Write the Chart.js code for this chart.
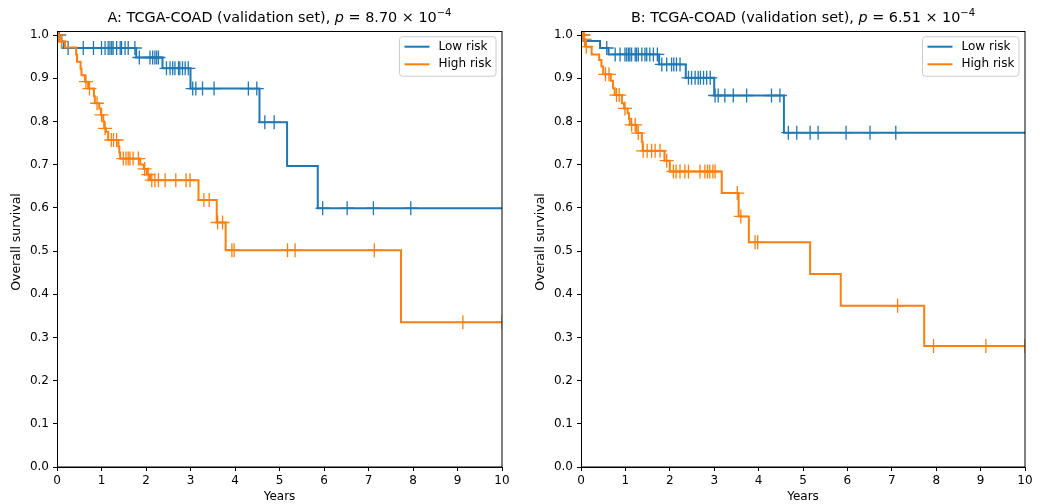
<!DOCTYPE html>
<html>
<head>
<meta charset="utf-8">
<script src="https://cdn.jsdelivr.net/npm/chart.js@4"></script>
<style>
html,body{margin:0;padding:0;background:#fff;}
#wrap{position:relative;width:1047px;height:504px;overflow:hidden;}
canvas{position:absolute;top:0;}
</style>
</head>
<body>
<div id="wrap">
<canvas id="cA" width="524" height="504" style="left:0px"></canvas>
<canvas id="cB" width="523" height="504" style="left:524px"></canvas>
</div>
<script>
// ---------- DATA ----------
const xTicks = [0,1,2,3,4,5,6,7,8,9,10];
const yTicks = [0,0.1,0.2,0.3,0.4,0.5,0.6,0.7,0.8,0.9,1.0];
const seriesNames = ["Low risk", "High risk"];

// Panel A
const aLowT = [0, 0.1, 0.15, 1.78, 2.37, 3.0, 4.55, 5.17, 5.86, 10];
const aLowS = [1.0, 0.985, 0.97, 0.948, 0.923, 0.876, 0.798, 0.697, 0.599, 0.599];
const aLowC = [0.05, 0.25, 0.59, 0.82, 1.0, 1.08, 1.15, 1.19, 1.23, 1.26, 1.34, 1.42, 1.45, 1.53, 1.6, 1.75,
  1.85, 2.09, 2.15, 2.2, 2.24, 2.28, 2.46, 2.54, 2.6, 2.65, 2.73, 2.76, 2.82, 2.88, 2.95,
  3.05, 3.12, 3.27, 3.53, 4.3, 4.49, 4.67, 4.88, 5.97, 6.52, 7.11, 7.95];
const aHighT = [0, 0.04, 0.18, 0.43, 0.45, 0.53, 0.55, 0.63, 0.70, 0.83, 0.85, 0.95, 0.99, 1.04, 1.06, 1.10,
  1.15, 1.38, 1.40, 1.42, 1.87, 1.95, 2.02, 2.09, 3.18, 3.59, 3.79, 7.73, 10];
const aHighS = [1.0, 0.985, 0.971, 0.955, 0.938, 0.922, 0.907, 0.892, 0.876, 0.858, 0.842, 0.83, 0.815, 0.80, 0.784, 0.776,
  0.757, 0.742, 0.728, 0.714, 0.70, 0.69, 0.677, 0.664, 0.618, 0.566, 0.502, 0.335, 0.335];
const aHighC = [0.03, 0.1, 0.65, 0.73, 0.9, 1.0, 1.08, 1.22, 1.27, 1.34, 1.49, 1.55, 1.6, 1.64, 1.71, 1.83,
  1.97, 2.05, 2.13, 2.2, 2.28, 2.43, 2.67, 2.9, 2.99, 3.3, 3.42, 3.61, 3.72, 3.93, 3.98, 5.18, 5.35, 7.13, 9.12, 10.0];

// Panel B
const bLowT = [0, 0.06, 0.43, 0.62, 1.76, 2.36, 3.0, 4.57, 10];
const bLowS = [1.0, 0.986, 0.97, 0.955, 0.932, 0.901, 0.86, 0.774, 0.774];
const bLowC = [0.05, 0.58, 0.77, 0.88, 0.99, 1.03, 1.07, 1.1, 1.14, 1.22, 1.25, 1.29, 1.37, 1.44, 1.48, 1.55, 1.63, 1.72,
  1.82, 1.93, 2.04, 2.09, 2.15, 2.23, 2.42, 2.49, 2.57, 2.64, 2.69, 2.76, 2.83, 2.91,
  3.02, 3.09, 3.24, 3.43, 3.73, 4.29, 4.48, 4.67, 4.86, 5.16, 5.34, 5.97, 6.51, 7.09];
const bHighT = [0, 0.06, 0.1, 0.24, 0.41, 0.46, 0.5, 0.67, 0.72, 0.76, 0.92, 0.97, 1.05, 1.08, 1.1, 1.25, 1.37, 1.39,
  1.88, 2.0, 3.17, 3.55, 3.78, 5.16, 5.85, 7.73, 10];
const bHighS = [1.0, 0.99, 0.973, 0.955, 0.942, 0.927, 0.909, 0.894, 0.877, 0.861, 0.842, 0.83, 0.819, 0.806, 0.792, 0.773, 0.753, 0.732,
  0.709, 0.684, 0.634, 0.58, 0.52, 0.447, 0.373, 0.28, 0.28];
const bHighC = [0.05, 0.08, 0.12, 0.55, 0.63, 0.8, 0.86, 0.99, 1.14, 1.22, 1.29, 1.4, 1.49, 1.59, 1.67, 1.78,
  1.93, 2.08, 2.14, 2.23, 2.34, 2.42, 2.68, 2.79, 2.85, 2.9, 2.97, 3.02, 3.52, 3.6, 3.92, 3.98, 7.13, 7.94, 9.12, 10.0];

const titleA = ["A: TCGA-COAD (validation set), ", "8.70", "4"];
const titleB = ["B: TCGA-COAD (validation set), ", "6.51", "4"];
const xLabel = "Years";
const yLabel = "Overall survival";

// ---------- STYLE ----------
const BLUE = "#1f77b4", ORANGE = "#ff7f0e";
const FONT = '"DejaVu Sans", sans-serif';

function survAt(T, S, t) {
  let v = S[0];
  for (let i = 0; i < T.length; i++) { if (T[i] <= t) v = S[i]; }
  return v;
}
function stepData(T, S) { return T.map((t, i) => ({x: t, y: S[i]})); }
function censorData(T, S, C) { return C.map(t => ({x: t, y: survAt(T, S, t)})); }

const decorPlugin = {
  id: 'decor',
  afterDraw(chart) {
    const ctx = chart.ctx, a = chart.chartArea;
    const o = chart.options.plugins.decor;
    ctx.save();
    // frame
    ctx.strokeStyle = '#000'; ctx.lineWidth = 1;
    ctx.strokeRect(Math.round(a.left) + 0.5, Math.round(a.top) + 0.5, Math.round(a.right - a.left) - 1 + 0.5, Math.round(a.bottom - a.top) - 0.5);
    // title
    const cx = (a.left + a.right) / 2, by = 21.5;
    const fN = '14.4px ' + FONT, fI = 'italic 14.4px ' + FONT, fS = '10px ' + FONT;
    const segs = [
      {t: o.title[0], f: fN, dy: 0},
      {t: 'p', f: fI, dy: 0},
      {t: ' = ' + o.title[1] + ' \u00d7 10', f: fN, dy: 0},
      {t: '\u2212' + o.title[2], f: fS, dy: -6}
    ];
    let tw = 0;
    segs.forEach(s => { ctx.font = s.f; s.w = ctx.measureText(s.t).width; tw += s.w; });
    let x = cx - tw / 2;
    ctx.fillStyle = '#000'; ctx.textBaseline = 'alphabetic'; ctx.textAlign = 'left';
    segs.forEach(s => { ctx.font = s.f; ctx.fillText(s.t, x, by + s.dy); x += s.w; });
    // axis labels
    ctx.font = '12px ' + FONT; ctx.textAlign = 'center'; ctx.textBaseline = 'middle';
    ctx.fillText(xLabel, cx, 497);
    ctx.save();
    ctx.translate(17, 242);
    ctx.rotate(-Math.PI / 2);
    ctx.font = '12.5px ' + FONT;
    ctx.fillText(yLabel, 0, 0);
    ctx.restore();
    // legend
    const bw = 96.5, bh = 39.5;
    const bx = a.right - 6 - bw, byy = a.top + 5.7;
    const r = 3;
    ctx.beginPath();
    ctx.moveTo(bx + r, byy);
    ctx.lineTo(bx + bw - r, byy); ctx.arcTo(bx + bw, byy, bx + bw, byy + r, r);
    ctx.lineTo(bx + bw, byy + bh - r); ctx.arcTo(bx + bw, byy + bh, bx + bw - r, byy + bh, r);
    ctx.lineTo(bx + r, byy + bh); ctx.arcTo(bx, byy + bh, bx, byy + bh - r, r);
    ctx.lineTo(bx, byy + r); ctx.arcTo(bx, byy, bx + r, byy, r);
    ctx.closePath();
    ctx.fillStyle = 'rgba(255,255,255,0.8)'; ctx.fill();
    ctx.strokeStyle = '#cccccc'; ctx.lineWidth = 1; ctx.stroke();
    const cols = [BLUE, ORANGE];
    seriesNames.forEach((n, i) => {
      const yy = byy + 10 + i * 17.6;
      ctx.strokeStyle = cols[i]; ctx.lineWidth = 2;
      ctx.beginPath(); ctx.moveTo(bx + 5, yy); ctx.lineTo(bx + 30, yy); ctx.stroke();
      ctx.fillStyle = '#000'; ctx.font = '12px ' + FONT; ctx.textAlign = 'left'; ctx.textBaseline = 'middle';
      ctx.fillText(n, bx + 39, yy);
    });
    ctx.restore();
  }
};

function makePanel(id, title, lowT, lowS, lowC, highT, highS, highC) {
  const lineDs = (T, S, c, label) => ({
    label, type: 'line', data: stepData(T, S), stepped: 'before', borderColor: c, backgroundColor: c,
    borderWidth: 2, pointRadius: 0, fill: false, tension: 0
  });
  const censDs = (T, S, C, c, label) => ({
    label, type: 'scatter', data: censorData(T, S, C), showLine: false, pointStyle: 'cross',
    pointRadius: 7, pointHoverRadius: 7, borderColor: c, backgroundColor: c, pointBorderWidth: 1.3, borderWidth: 1.3
  });
  return new Chart(document.getElementById(id), {
    type: 'line',
    data: {
      datasets: [
        censDs(highT, highS, highC, ORANGE, seriesNames[1] + ' censored'),
        lineDs(highT, highS, ORANGE, seriesNames[1]),
        censDs(lowT, lowS, lowC, BLUE, seriesNames[0] + ' censored'),
        lineDs(lowT, lowS, BLUE, seriesNames[0])
      ]
    },
    options: {
      responsive: false, animation: false, devicePixelRatio: 1,
      layout: {padding: {top: 31, right: 22, left: 0, bottom: 0}},
      plugins: {legend: {display: false}, tooltip: {enabled: false}, decor: {title}},
      scales: {
        x: {
          type: 'linear', min: 0, max: 10,
          afterBuildTicks: s => { s.ticks = xTicks.map(v => ({value: v})); },
          afterFit: s => { s.height = 37; },
          grid: {drawOnChartArea: false, tickLength: 4, tickColor: '#000', tickWidth: 1},
          border: {display: true, color: '#000', width: 1},
          ticks: {color: '#000', font: {family: FONT, size: 12}, padding: 3, maxRotation: 0, autoSkip: false,
                  callback: v => String(v)}
        },
        y: {
          type: 'linear', min: 0, max: 1.0093,
          afterBuildTicks: s => { s.ticks = yTicks.map(v => ({value: v})); },
          afterFit: s => { s.width = 57; },
          grid: {drawOnChartArea: false, tickLength: 4, tickColor: '#000', tickWidth: 1},
          border: {display: true, color: '#000', width: 1},
          ticks: {color: '#000', font: {family: FONT, size: 12}, padding: 4, autoSkip: false,
                  callback: v => Number(v).toFixed(1)}
        }
      }
    },
    plugins: [decorPlugin]
  });
}

makePanel('cA', titleA, aLowT, aLowS, aLowC, aHighT, aHighS, aHighC);
makePanel('cB', titleB, bLowT, bLowS, bLowC, bHighT, bHighS, bHighC);
</script>
</body>
</html>
